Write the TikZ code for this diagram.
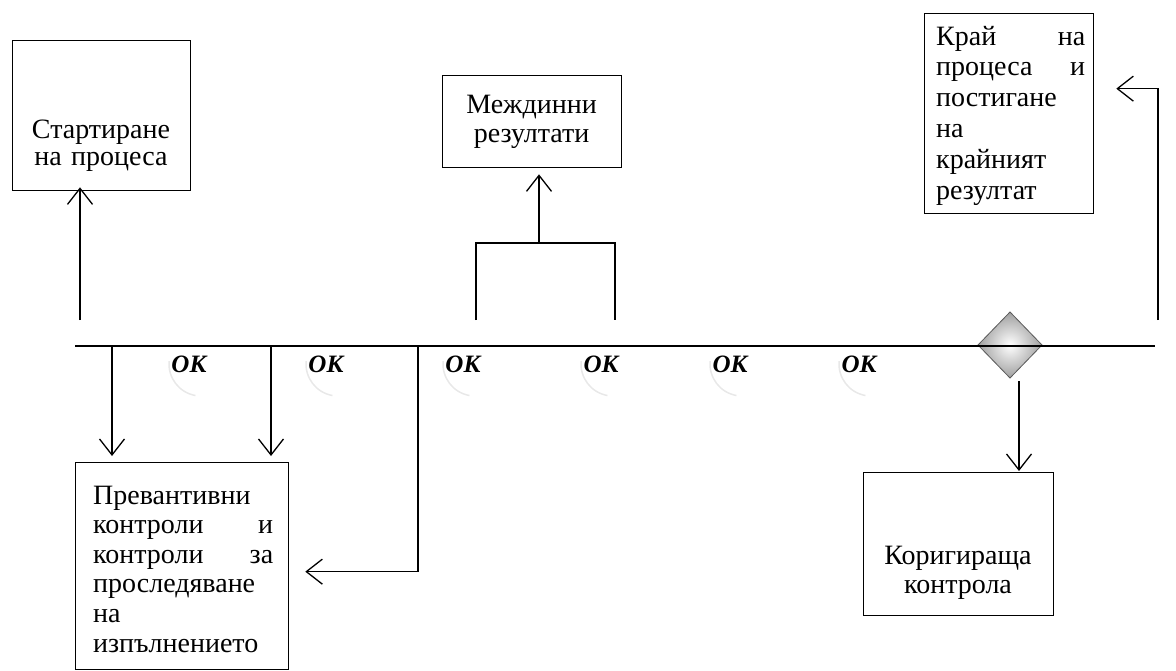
\documentclass[tikz,border=0pt]{standalone}
\usepackage{fontspec}
\setmainfont{Liberation Serif}
\newfontfamily\okfont{Liberation Serif}
\usetikzlibrary{arrows.meta}
\newcommand{\jline}[3]{\leavevmode\hbox to #1{#2\hfill #3}}
\begin{document}
\begin{tikzpicture}[x=1pt,y=-1pt,
  box/.style={draw, line width=1.3pt, inner sep=0pt, anchor=north west},
  txt/.style={inner sep=0pt, anchor=base},
  conn/.style={line width=1.3pt},
  arr/.style={conn, -{Straight Barb[length=16pt,width=25pt,line width=1.3pt]}},
  oklab/.style={font=\okfont\fontsize{25}{25}\selectfont\bfseries\itshape, inner sep=0pt},
  ghost/.style={gray!18, line width=1.5pt}]
\useasboundingbox (0,0) rectangle (1176,670);

% boxes
\node[box, minimum width=178pt, minimum height=150pt] (start) at (12,40) {};
\node[box, minimum width=179pt, minimum height=92pt] (mid) at (442,75) {};
\node[box, minimum width=169pt, minimum height=200pt] (end) at (924,13) {};
\node[box, minimum width=213pt, minimum height=207pt] (prev) at (75,462) {};
\node[box, minimum width=190pt, minimum height=143pt] (corr) at (863,472) {};

% texts
\node[txt, text width=178pt, align=center, font=\fontsize{28}{27}\selectfont] (starttxt) at (101,138) {Стартиране\\на процеса};
\node[txt, text width=179pt, align=center, font=\fontsize{28}{29}\selectfont] (midtxt) at (531.5,113) {Междинни\\резултати};
\node[txt, text width=150pt, align=left, font=\fontsize{28}{30.8}\selectfont, anchor=base west] (endtxt) at (936,45) {\jline{149pt}{Край}{на}\\\jline{149pt}{процеса}{и}\\постигане\\на\\крайният\\резултат};
\node[txt, text width=182pt, align=left, font=\fontsize{28}{29.6}\selectfont, anchor=base west] (prevtxt) at (93,504) {Превантивни\\\jline{180pt}{контроли}{и}\\\jline{180pt}{контроли}{за}\\проследяване\\на\\изпълнението};
\node[txt, text width=190pt, align=center, font=\fontsize{28}{29}\selectfont] (corrtxt) at (958,564) {Коригираща\\контрола};

% diamond
\coordinate (dia) at (1010,345);
\shade[inner color=white, outer color=gray!75] (978,345) -- (1010,312) -- (1042,345) -- (1010,378) -- cycle;
\draw[gray!70!black, line width=0.8pt] (978,345) -- (1010,312) -- (1042,345) -- (1010,378) -- cycle;

% main timeline
\coordinate (L) at (75,346);
\coordinate (R) at (1155,346);
\draw[line width=1.8pt] (L) -- (R);

% OK labels with faint arcs
\foreach \x/\n in {189/ok1,326/ok2,463/ok3,601/ok4,730/ok5,859/ok6}{
  \draw[ghost] (\x+12,364) ++(185:32) arc[start angle=185, end angle=100, radius=32];
  \node[oklab] (\n) at (\x,364) {ОК};
}

% start arrow
\coordinate (s0) at (80,320);
\draw[arr, shorten >=-4pt] (s0) -- (s0 |- start.south);

% arrows down to prev
\coordinate (d1) at (112,346);
\coordinate (d2) at (271,346);
\coordinate (d3) at (418,346);
\draw[arr, shorten >=6pt] (d1) -- (d1 |- prev.north);
\draw[arr, shorten >=6pt] (d2) -- (d2 |- prev.north);
\draw[arr, shorten >=16pt] (d3) |- ([yshift=-5.5pt]prev.east);

% bracket and intermediate result arrow
\coordinate (b1) at (476,320);
\coordinate (b2) at (615,320);
\coordinate (bm) at (539,243);
\draw[conn] (b1) -- (b1 |- bm) -- (b2 |- bm) -- (b2);
\draw[arr, shorten >=6pt] (bm) -- (bm |- mid.south);

% end arrow
\coordinate (e0) at (1158,320);
\draw[arr, shorten >=22pt] (e0) |- ([yshift=25pt]end.east);

% correction arrow
\coordinate (dv) at (1019,381);
\draw[arr, shorten >=1pt] (dv) -- (dv |- corr.north);
\end{tikzpicture}
\end{document}
